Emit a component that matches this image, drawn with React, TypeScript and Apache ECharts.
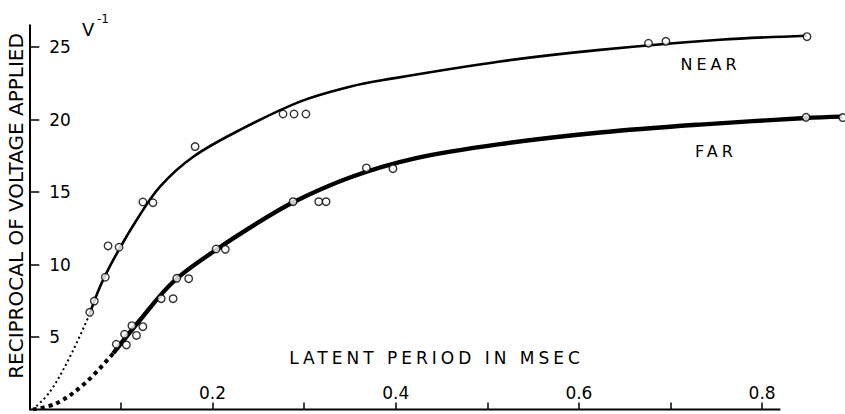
import React, { useEffect, useRef } from "react";
import * as echarts from "echarts";

// ---- data ----
const nearX = [0.066, 0.071, 0.083, 0.086, 0.098, 0.124, 0.135, 0.181, 0.277, 0.289, 0.302, 0.676, 0.695, 0.849];
const nearY = [6.7, 7.48, 9.12, 11.28, 11.19, 14.31, 14.26, 18.13, 20.38, 20.38, 20.38, 25.26, 25.39, 25.71];

const farX = [0.095, 0.106, 0.104, 0.117, 0.112, 0.124, 0.144, 0.157, 0.161, 0.174, 0.204, 0.214, 0.288, 0.316, 0.324, 0.368, 0.397, 0.848, 0.888];
const farY = [4.5, 4.45, 5.19, 5.11, 5.78, 5.71, 7.64, 7.64, 9.05, 9.02, 11.07, 11.05, 14.33, 14.33, 14.33, 16.66, 16.61, 20.15, 20.13];

// fitted curves (solid)
const nearCurveX = [0.0655, 0.0772, 0.0936, 0.1172, 0.1427, 0.179, 0.23, 0.2955, 0.35, 0.3865, 0.5138, 0.623, 0.754, 0.8487];
const nearCurveY = [6.52, 8.47, 10.54, 13.07, 15.37, 17.43, 19.28, 21.23, 22.26, 22.72, 24.0, 24.8, 25.5, 25.78];
const farCurveX = [0.0917, 0.1209, 0.1572, 0.2009, 0.25, 0.2882, 0.35, 0.42, 0.5139, 0.623, 0.7322, 0.8476, 0.8875];
const farCurveY = [3.88, 6.17, 8.81, 10.88, 12.9, 14.3, 16.0, 17.3, 18.3, 19.1, 19.65, 20.1, 20.2];

// extrapolations to the origin (dotted)
const nearDotX = [0.004, 0.0226, 0.0444, 0.0655];
const nearDotY = [0, 1.23, 3.64, 6.52];
const farDotX = [0.004, 0.0299, 0.0608, 0.0917];
const farDotY = [0, 0.43, 1.81, 3.88];

const xTickValues = [0.1, 0.2, 0.3, 0.4, 0.5, 0.6, 0.7, 0.8];
const xLabelValues = [0.2, 0.4, 0.6, 0.8];
const yTickValues = [5, 10, 15, 20, 25];
const xAxisEnd = 0.82;

const zip = (xs: number[], ys: number[]) => xs.map((x, i) => [x, ys[i]]);

const FONT = "'DejaVu Sans'";

export default function App() {
  const ref = useRef<HTMLDivElement>(null);
  useEffect(() => {
    document.body.style.margin = "0";
    if (!ref.current) return;
    const chart = echarts.init(ref.current, null, { renderer: "svg" });
    const lineBase = { type: "line", symbol: "none", smooth: 0.35, silent: true, z: 2 };
    const pointStyle = { color: "#fff", borderColor: "#000", borderWidth: 1.4 };
    chart.setOption({
      animation: false,
      grid: { left: 29.3, top: 25.25, width: 824.4, height: 384.25, containLabel: false, outerBoundsMode: "none" },
      xAxis: {
        type: "value",
        min: 0,
        max: 0.9,
        interval: 0.1,
        axisLine: { show: false },
        axisTick: { show: true, inside: true, length: 7, customValues: xTickValues, lineStyle: { color: "#000", width: 1.5 } },
        axisLabel: {
          inside: true,
          margin: 8,
          customValues: xLabelValues,
          formatter: (v: number) => v.toFixed(1),
          fontFamily: FONT,
          fontSize: 17,
          color: "#000",
        },
        splitLine: { show: false },
      },
      yAxis: {
        type: "value",
        min: 0,
        max: 26.5,
        interval: 5,
        axisLine: { show: true, lineStyle: { color: "#000", width: 2 } },
        axisTick: { show: true, inside: true, length: 10, customValues: yTickValues, lineStyle: { color: "#000", width: 1.5 } },
        axisLabel: {
          inside: true,
          margin: 20,
          customValues: yTickValues,
          fontFamily: FONT,
          fontSize: 17,
          color: "#000",
        },
        splitLine: { show: false },
      },
      series: [
        {
          type: "line",
          name: "axis",
          data: [[0, 0], [xAxisEnd, 0]],
          symbol: "none",
          clip: false,
          silent: true,
          lineStyle: { color: "#000", width: 2 },
        },
        { ...lineBase, name: "NEAR extrapolation", data: zip(nearDotX, nearDotY), lineStyle: { color: "#000", width: 2, type: [2, 3] } },
        { ...lineBase, name: "NEAR curve", data: zip(nearCurveX, nearCurveY), lineStyle: { color: "#000", width: 2.6 } },
        { ...lineBase, name: "FAR extrapolation", data: zip(farDotX, farDotY), lineStyle: { color: "#000", width: 4, type: [4, 4] } },
        { ...lineBase, name: "FAR curve", data: zip(farCurveX, farCurveY), lineStyle: { color: "#000", width: 4.4 } },
        { type: "scatter", name: "NEAR", data: zip(nearX, nearY), symbol: "circle", symbolSize: 7.5, itemStyle: pointStyle, z: 5, silent: true },
        { type: "scatter", name: "FAR", data: zip(farX, farY), symbol: "circle", symbolSize: 7.5, itemStyle: pointStyle, z: 5, silent: true },
      ],
      graphic: [
        {
          type: "text",
          x: 16,
          y: 206,
          rotation: Math.PI / 2,
          style: { text: "RECIPROCAL OF VOLTAGE APPLIED", font: `20px ${FONT}`, fill: "#000", align: "center", verticalAlign: "middle" },
        },
        {
          type: "text",
          x: 436.5,
          y: 358,
          style: { text: "LATENT PERIOD IN MSEC", font: `17px ${FONT}, spaced`, fill: "#000", align: "center", verticalAlign: "middle" },
        },
        {
          type: "text",
          x: 710.5,
          y: 64,
          style: { text: "NEAR", font: `16px ${FONT}, spaced`, fill: "#000", align: "center", verticalAlign: "middle" },
        },
        {
          type: "text",
          x: 716,
          y: 151.5,
          style: { text: "FAR", font: `16px ${FONT}, spaced`, fill: "#000", align: "center", verticalAlign: "middle" },
        },
        {
          type: "text",
          x: 82,
          y: 29.5,
          style: { text: "V", font: `18px ${FONT}`, fill: "#000", align: "left", verticalAlign: "middle" },
        },
        {
          type: "text",
          x: 97,
          y: 19,
          style: { text: "-1", font: `12px ${FONT}`, fill: "#000", align: "left", verticalAlign: "middle" },
        },
      ],
    });
    return () => chart.dispose();
  }, []);
  return (
    <>
      <style>{`.chart-box text[style*="spaced"] { letter-spacing: 4px; }`}</style>
      <div className="chart-box" ref={ref} style={{ width: 845, height: 414 }} />
    </>
  );
}
